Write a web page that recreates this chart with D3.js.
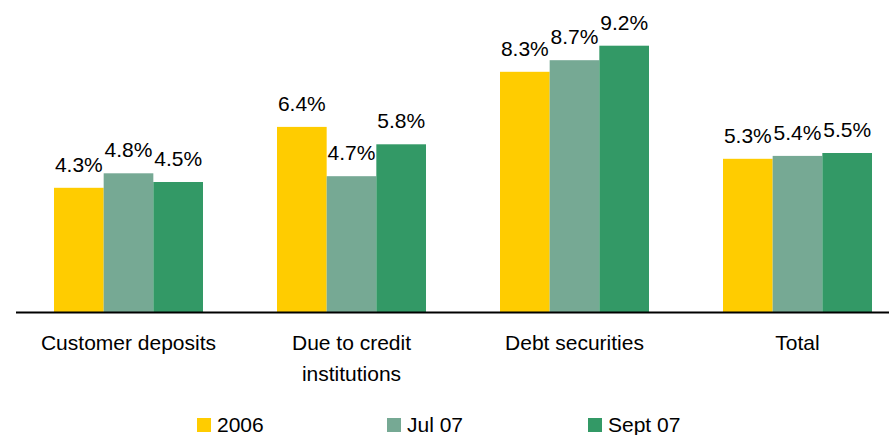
<!DOCTYPE html>
<html>
<head>
<meta charset="utf-8">
<script src="https://cdn.jsdelivr.net/npm/d3@7"></script>
<style>
  html, body { margin: 0; padding: 0; background: #fff; }
  svg { display: block; font-family: "Liberation Sans", Arial, sans-serif; }
</style>
</head>
<body>
<svg id="chart" width="889" height="435"></svg>
<script>
// Funding cost by source
const categories = [["Customer deposits"], ["Due to credit", "institutions"], ["Debt securities"], ["Total"]];
const seriesNames = ["2006", "Jul 07", "Sept 07"];
const values2006 = [4.3, 6.4, 8.3, 5.3];
const valuesJul07 = [4.8, 4.7, 8.7, 5.4];
const valuesSept07 = [4.5, 5.8, 9.2, 5.5];
const colors = ["#FFCC00", "#76A994", "#339966"];

const series = [values2006, valuesJul07, valuesSept07];
const svg = d3.select("#chart");

const baseY = 312.5;
const x0 = d3.scaleBand().domain(d3.range(categories.length)).range([17, 909]).padding(0);
const x1 = d3.scaleBand().domain(d3.range(seriesNames.length))
  .range([0, x0.bandwidth()]).paddingInner(0).paddingOuter(0.745);
const y = d3.scaleLinear().domain([0, 10]).range([baseY, baseY - 290]);

const groups = svg.append("g").selectAll("g")
  .data(categories)
  .join("g")
  .attr("transform", (d, i) => `translate(${x0(i)},0)`);

groups.each(function (cat, ci) {
  const g = d3.select(this);
  series.forEach((vals, si) => {
    const v = vals[ci];
    g.append("rect")
      .attr("x", x1(si))
      .attr("y", y(v))
      .attr("width", x1.bandwidth())
      .attr("height", baseY - y(v))
      .attr("fill", colors[si]);
    g.append("text")
      .attr("x", x1(si) + x1.bandwidth() / 2)
      .attr("y", y(v) - 16)
      .attr("text-anchor", "middle")
      .attr("font-size", 21)
      .attr("fill", "#000")
      .text(v.toFixed(1) + "%");
  });
  const label = g.append("text")
    .attr("x", x0.bandwidth() / 2)
    .attr("y", 350)
    .attr("text-anchor", "middle")
    .attr("font-size", 21)
    .attr("fill", "#000");
  cat.forEach((line, li) => {
    label.append("tspan")
      .attr("x", x0.bandwidth() / 2)
      .attr("dy", li === 0 ? 0 : 31)
      .text(line);
  });
});

// category axis line
svg.append("line")
  .attr("x1", 16).attr("x2", 889)
  .attr("y1", baseY).attr("y2", baseY)
  .attr("stroke", "#000").attr("stroke-width", 2);

// legend
const legendX = [197, 387, 588];
const legend = svg.append("g").selectAll("g")
  .data(seriesNames)
  .join("g")
  .attr("transform", (d, i) => `translate(${legendX[i]},0)`);
legend.append("rect")
  .attr("x", 0).attr("y", 418)
  .attr("width", 14).attr("height", 14)
  .attr("fill", (d, i) => colors[i]);
legend.append("text")
  .attr("x", 20).attr("y", 432)
  .attr("font-size", 21)
  .attr("fill", "#000")
  .text(d => d);
</script>
</body>
</html>
